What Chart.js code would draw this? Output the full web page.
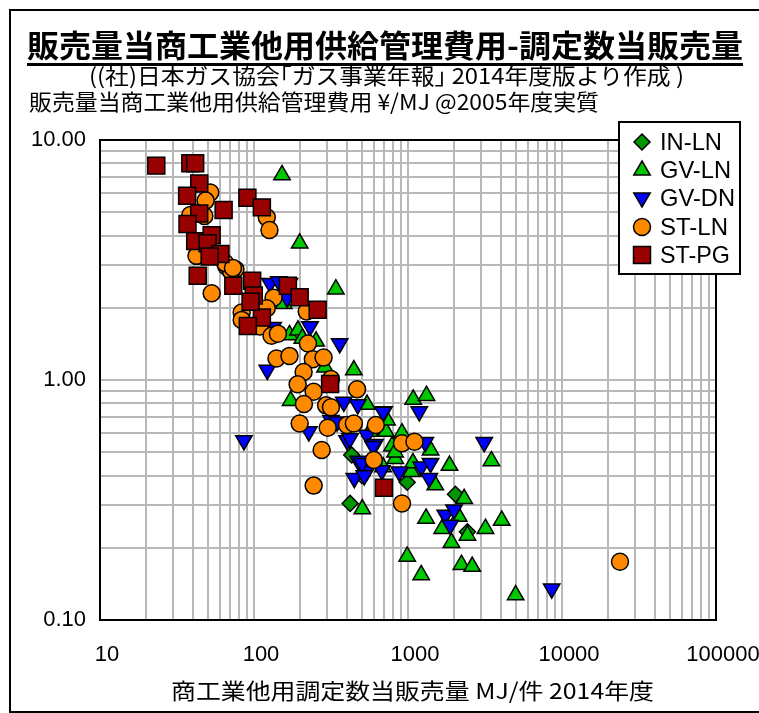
<!DOCTYPE html>
<html>
<head>
<meta charset="utf-8">
<script src="https://cdn.jsdelivr.net/npm/chart.js@4.4.1/dist/chart.umd.min.js"></script>
<style>
body { margin: 0; background: #fff; overflow: hidden; }
#wrap { position: relative; width: 759px; height: 713px; }
#frame { position: absolute; left: 9px; top: 9px; width: 800px; height: 704px; border: 2px solid #000; box-sizing: border-box; }
canvas { position: absolute; left: 0; top: 0; }
.t { position: absolute; white-space: nowrap; transform-origin: 0 50%; font-family: "Noto Sans CJK JP", sans-serif; color: #000; line-height: 1; }
#legend { position: absolute; left: 618px; top: 121px; width: 123px; height: 154px; border: 2px solid #000; background: #fff; box-sizing: border-box; }
.lg { position: absolute; left: 0; }
.lg svg { position: absolute; left: 10px; }
.lg span { position: absolute; left: 40px; white-space: nowrap; transform-origin: 0 50%; font-family: "Liberation Sans", sans-serif; font-size: 24px; line-height: 1; }
</style>
</head>
<body>
<div id="wrap">
  <canvas id="myChart" width="759" height="713"></canvas>
  <div id="frame"></div>
  <div class="t" style="left:27px;top:28px;font-size:31px;font-weight:bold" data-w="716">販売量当商工業他用供給管理費用-調定数当販売量</div>
  <div style="position:absolute;left:27px;top:63px;width:716px;height:3px;background:#000"></div>
  <div class="t" style="left:89px;top:63px;font-size:22px" data-w="595">((社)日本ガス協会｢ガス事業年報｣ 2014年度版より作成 )</div>
  <div class="t" style="left:29px;top:89px;font-size:22px" data-w="570">販売量当商工業他用供給管理費用 ¥/MJ @2005年度実質</div>
  <div class="t" style="left:171px;top:678px;font-size:22px" data-w="483">商工業他用調定数当販売量 MJ/件 2014年度</div>
  <div id="legend"></div>
</div>
<script>
const seriesNames = ['IN-LN', 'GV-LN', 'GV-DN', 'ST-LN', 'ST-PG'];

// IN-LN
const inlnX = [431, 988, 421, 2033, 2431, 502];
const inlnY = [0.487, 0.375, 0.306, 0.334, 0.233, 0.40];

// GV-LN
const gvlnX = [152, 198, 340, 156, 170, 193, 206, 253, 289, 445,
               173, 542, 1081, 1318, 719, 914, 731, 1400, 787, 1859,
               3480, 826, 1050, 1503, 2317, 505, 2133, 1310, 4060, 1667,
               2431, 3185, 1915, 988, 2223, 2612, 1218, 5000, 566, 824,
               689, 1076];
const gvlnY = [7.15, 3.71, 2.39, 2.08, 1.54, 1.61, 1.49, 1.45, 1.13, 1.10,
               0.82, 0.79, 0.83, 0.86, 0.61, 0.60, 0.68, 0.51, 0.53, 0.44,
               0.46, 0.47, 0.415, 0.365, 0.32, 0.29, 0.27, 0.265, 0.26, 0.24,
               0.225, 0.24, 0.21, 0.184, 0.17, 0.167, 0.154, 0.127, 0.61, 0.50,
               0.434, 0.451];

// GV-DN
const gvdnX = [86, 122, 360, 231, 127, 145, 170, 164, 133, 227,
               383, 472, 698, 1183, 316, 542, 402, 611, 475, 542,
               448, 676, 877, 1294, 1218, 1400, 1374, 3126, 1746, 1880,
               1990, 8570, 346, 420, 593, 502, 520, 689];
const gvdnY = [0.56, 1.10, 1.42, 1.67, 2.53, 2.57, 2.53, 2.20, 1.66, 0.61,
               0.81, 0.79, 0.74, 0.74, 0.68, 0.59, 0.56, 0.54, 0.46, 0.42,
               0.39, 0.42, 0.415, 0.55, 0.435, 0.45, 0.39, 0.55, 0.274, 0.249,
               0.288, 0.135, 0.67, 0.57, 0.53, 0.45, 0.40, 0.736];

// ST-LN
const stlnX = [52, 48.5, 38.6, 47.6, 121, 126, 42.3, 53.1, 66.2, 75.7,
               71, 134, 121, 83.2, 83.2, 109, 220, 130, 143, 224,
               140, 170, 241, 283, 210, 192, 244, 316, 467, 211,
               294, 316, 198, 301, 402, 445, 618, 275, 600, 914,
               1102, 244, 914, 23800, 65, 73];
const stlnY = [6.04, 5.59, 4.87, 4.82, 4.76, 4.22, 3.29, 2.30, 2.97, 2.89,
               2.83, 2.20, 1.99, 1.91, 1.78, 1.67, 1.93, 1.53, 1.56, 1.42,
               1.23, 1.26, 1.22, 1.24, 1.08, 0.96, 0.894, 1.01, 0.915, 0.794,
               0.784, 0.77, 0.659, 0.632, 0.649, 0.659, 0.649, 0.511, 0.464, 0.545,
               0.553, 0.363, 0.306, 0.175, 3.07, 2.93];

// ST-PG
const stpgX = [23.2, 38.6, 41.5, 44.1, 36.8, 90.6, 63.5, 112.5, 44.1, 37,
               41.5, 53.1, 50, 60.5, 51.5, 43.1, 73.4, 97.3, 99.7, 166,
               198, 259, 112.5, 91.2, 312, 698, 95];
const stpgY = [7.82, 8.0, 8.0, 6.59, 5.86, 5.75, 5.11, 5.24, 4.94, 4.47,
               3.79, 4.01, 3.71, 3.35, 3.27, 2.72, 2.47, 2.59, 2.25, 2.47,
               2.21, 1.96, 1.82, 1.68, 0.962, 0.356, 2.12];

const xTickValues = [10, 100, 1000, 10000, 100000];
const xTickLabels = ['10', '100', '1000', '10000', '100000'];
const yTickValues = [0.1, 1, 10];
const yTickLabels = ['0.10', '1.00', '10.00'];

function pts(xs, ys) {
  return xs.map((x, i) => ({ x: x, y: ys[i] }));
}

// grid lines at 1..9 of each decade
function logGrid(min, max) {
  let out = [];
  for (let p = min; p < max * 0.999; p *= 10) {
    for (let k = 1; k < 10; k++) out.push({ value: +(k * p).toPrecision(6) });
  }
  out.push({ value: max });
  return out;
}

const styles = [
  { shape: 'rectRot', r: 8, rot: 0, fill: '#009600' },
  { shape: 'triangle', r: 9.5, rot: 0, fill: '#00c800' },
  { shape: 'triangle', r: 9.5, rot: 180, fill: '#0000ff' },
  { shape: 'circle', r: 8.5, rot: 0, fill: '#ff8a00' },
  { shape: 'rect', r: 12, rot: 0, fill: '#990000' }
];
const allData = [pts(inlnX, inlnY), pts(gvlnX, gvlnY), pts(gvdnX, gvdnY), pts(stlnX, stlnY), pts(stpgX, stpgY)];

const datasets = seriesNames.map((name, i) => ({
  label: name,
  data: allData[i],
  pointStyle: styles[i].shape,
  pointRadius: styles[i].r,
  pointRotation: styles[i].rot,
  pointBackgroundColor: styles[i].fill,
  pointBorderColor: '#000',
  pointBorderWidth: 1.5,
  order: 5 - i
}));

const plotFrame = {
  id: 'plotFrame',
  beforeDatasetsDraw(c) {
    const a = c.chartArea, ctx = c.ctx;
    ctx.save();
    ctx.strokeStyle = '#000';
    ctx.lineWidth = 2;
    ctx.strokeRect(a.left, a.top, a.right - a.left, a.bottom - a.top);
    ctx.restore();
  }
};

const tickFont = { family: '"Liberation Sans", sans-serif', size: 22 };

const myChart = new Chart(document.getElementById('myChart'), {
  type: 'scatter',
  data: { datasets: datasets },
  options: {
    responsive: false,
    animation: false,
    devicePixelRatio: 1,
    layout: { padding: { left: 10, top: 140, right: 43, bottom: 0 } },
    plugins: { legend: { display: false }, tooltip: { enabled: false } },
    scales: {
      x: {
        type: 'logarithmic', min: 10, max: 100000,
        afterBuildTicks: s => { s.ticks = logGrid(10, 100000); },
        afterFit: s => { s.height = 93; s.paddingLeft = 0; s.paddingRight = 0; },
        grid: { color: '#b8b8b8', lineWidth: 2, drawTicks: false },
        border: { color: '#000', width: 2 },
        ticks: {
          autoSkip: false, maxRotation: 0, padding: 22, labelOffset: 7, color: '#000', font: tickFont,
          callback: v => { const i = xTickValues.indexOf(v); return i < 0 ? '' : xTickLabels[i]; }
        }
      },
      y: {
        type: 'logarithmic', min: 0.1, max: 10,
        afterBuildTicks: s => { s.ticks = logGrid(0.1, 10); },
        afterFit: s => { s.width = 90; s.paddingTop = 0; s.paddingBottom = 0; },
        grid: { color: '#b8b8b8', lineWidth: 2, drawTicks: false },
        border: { color: '#000', width: 2 },
        ticks: {
          autoSkip: false, padding: 14, color: '#000', font: tickFont,
          callback: v => {
            const i = yTickValues.findIndex(t => Math.abs(t - v) < 1e-9);
            return i < 0 ? '' : yTickLabels[i];
          }
        }
      }
    }
  },
  plugins: [plotFrame]
});

// legend box
function markerSvg(st) {
  let s = '';
  if (st.shape === 'rectRot') s = '<polygon points="12,4 20,12 12,20 4,12"/>';
  else if (st.shape === 'triangle' && st.rot === 0) s = '<polygon points="12,3 20.2,17 3.8,17"/>';
  else if (st.shape === 'triangle') s = '<polygon points="12,21 20.2,7 3.8,7"/>';
  else if (st.shape === 'circle') s = '<circle cx="12" cy="12" r="8.5"/>';
  else s = '<rect x="3.5" y="3.5" width="17" height="17"/>';
  return '<svg width="24" height="24" viewBox="0 0 24 24" style="top:-12px"><g fill="' + st.fill + '" stroke="#000" stroke-width="1.5">' + s + '</g></svg>';
}
const legendRows = [21, 49, 77, 106, 134];
const legendWidths = [62, 71, 75, 68, 70];
let legend = document.getElementById('legend');
seriesNames.forEach((name, i) => {
  let row = document.createElement('div');
  row.className = 'lg';
  row.style.top = (legendRows[i] - 2) + 'px';
  row.innerHTML = markerSvg(styles[i]) + '<span style="top:-12px" data-w="' + legendWidths[i] + '">' + name + '</span>';
  legend.appendChild(row);
});

function fitTexts() {
  document.querySelectorAll('[data-w]').forEach(el => {
    el.style.transform = 'none';
    const w = el.getBoundingClientRect().width;
    if (w > 0) el.style.transform = 'scaleX(' + (el.dataset.w / w) + ')';
  });
}
fitTexts();
if (document.fonts) document.fonts.ready.then(fitTexts);
</script>
</body>
</html>
